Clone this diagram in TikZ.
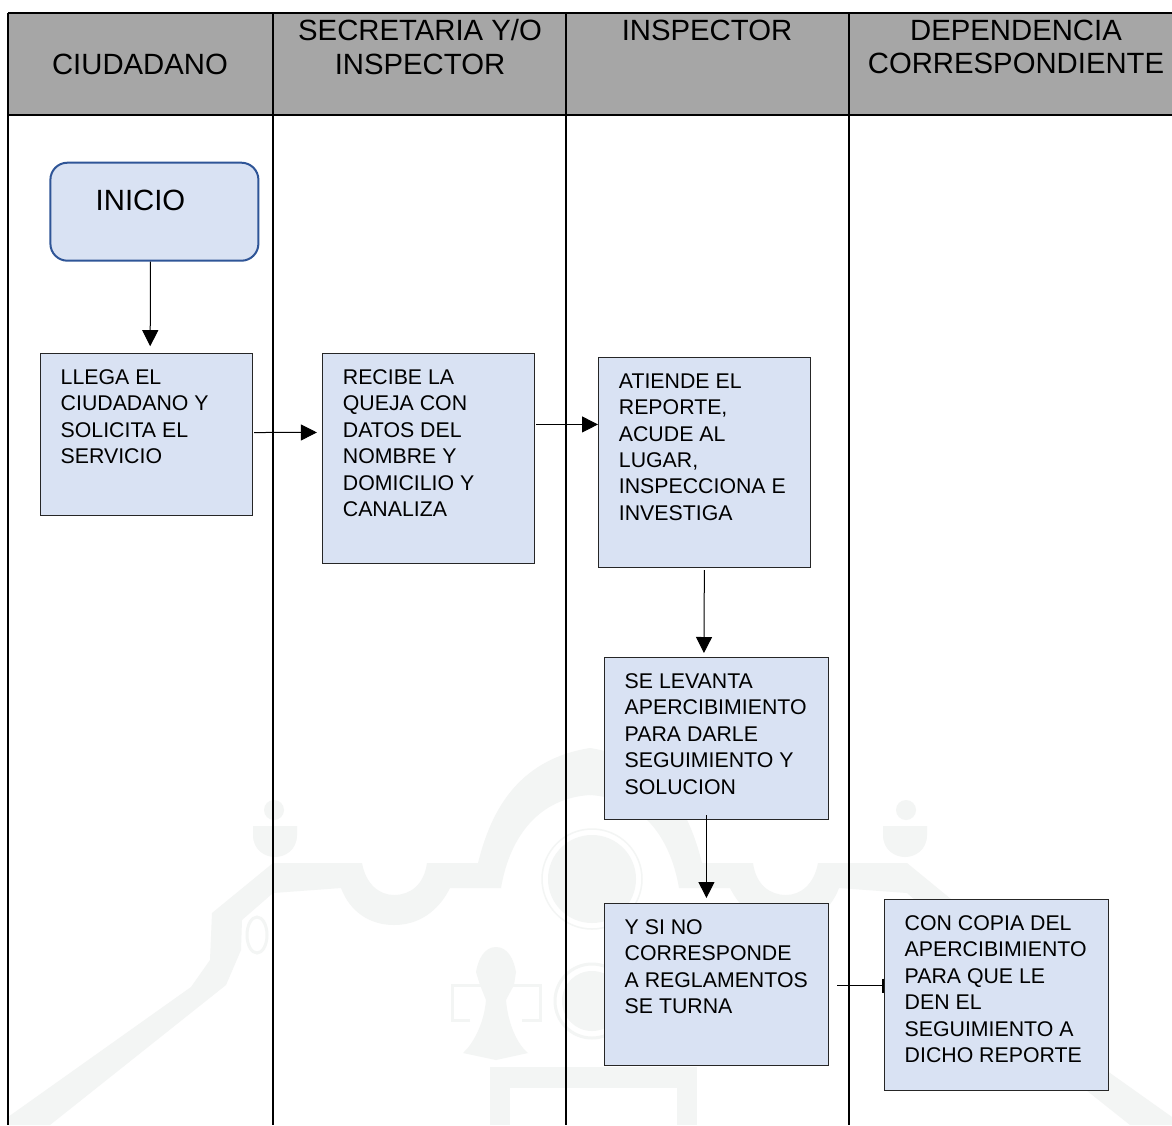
\documentclass[tikz,border=0pt]{standalone}
\usepackage{fontspec}
\setmainfont{Liberation Sans}
\usetikzlibrary{arrows.meta}
\definecolor{hdr}{HTML}{A6A6A6}
\definecolor{boxfill}{HTML}{D9E2F3}
\definecolor{startline}{HTML}{2F5597}
\definecolor{wm}{HTML}{F3F5F4}
\tikzset{
  x=1pt,y=-1pt,
  wmfill/.style={fill=wm,draw=none},
  wmline/.style={draw=wm,line width=3pt,fill=none},
  lane/.style={draw=black,line width=2.2pt},
  hdrtext/.style={font=\fontsize{29.3}{33.5}\selectfont,align=center,anchor=center,inner sep=0pt},
  proc/.style={draw=black!85,line width=1pt,fill=boxfill,inner sep=0pt,anchor=north west},
  proctext/.style={font=\fontsize{21.3}{26.4}\selectfont,align=left,anchor=north west,inner sep=0pt},
  flow/.style={draw=black,line width=1pt,-{Triangle[length=16pt,width=16pt]}},
  barflow/.style={draw=black,line width=1pt,-{Bar[width=14pt,line width=1.4pt]}},
}
\newcommand{\procbox}[6]{% name, x1,y1,x2,y2,text
  \node[proc,minimum width=#4pt-#2pt,minimum height=#5pt-#3pt] (#1) at (#2-0.8,#3-0.8) {};
  \node[proctext] (#1t) at (#2+20,#3+16) {#6};
}
\newcommand{\wmhalf}{%
  % long diagonal band, shoulder, notch and arch
  \fill[wmfill] (8,1117) -- (191,987) -- (210,960) -- (212,913) -- (273,863) -- (362,863)
    .. controls (366,885) and (380,895) .. (394,895)
    .. controls (410,895) and (424,885) .. (427,863)
    -- (478,863) .. controls (490,815) and (515,760) .. (590,748)
    -- (590,795) .. controls (540,798) and (510,835) .. (501,888)
    -- (450,888) .. controls (438,912) and (418,925) .. (394,925)
    .. controls (370,925) and (350,912) .. (341,888)
    -- (273,893) -- (242,920) -- (241,950) -- (226,985) -- (50,1125) -- (8,1125) -- cycle;
  % finial
  \fill[wmfill] (253,835) .. controls (253,850) and (265,857) .. (275,857)
    .. controls (285,857) and (297,850) .. (297,835) -- (297,826) -- (253,826) -- cycle;
  \fill[wmfill] (274,810) circle (10);
  \draw[wmline] (257,935) ellipse (10 and 18);
}
\begin{document}
\begin{tikzpicture}
\useasboundingbox (0,0) rectangle (1172,1125);
\fill[white] (0,0) rectangle (1172,1125);
% watermark
\begin{scope}
\clip (0,0) rectangle (1172,1125);
\wmhalf
\begin{scope}[xshift=1180pt,xscale=-1]
\wmhalf
\end{scope}
\fill[wmfill] (592,879) circle (44);
\draw[wmline,line width=1.5pt] (592,879) circle (50);
\draw[wmline] (592,1001) circle (37);
\fill[wmfill] (592,1001) circle (30);
% bell
\draw[wmline] (470,1020) -- (452,1020) -- (452,985) -- (540,985) -- (540,1020) -- (522,1020);
\fill[wmfill] (496,947) .. controls (484,947) and (478,960) .. (476,972) -- (480,985) -- (486,1000)
  .. controls (484,1025) and (472,1045) .. (463,1053) -- (496,1060) -- (528,1053)
  .. controls (518,1045) and (508,1025) .. (506,1000) -- (514,985) -- (516,972)
  .. controls (514,960) and (508,947) .. (496,947) -- cycle;
% lower structure
\fill[wmfill] (490,1067) rectangle (697,1088);
\fill[wmfill] (490,1067) rectangle (510,1125);
\fill[wmfill] (677,1067) rectangle (697,1125);
\end{scope}
% header
\fill[hdr] (8,13) rectangle (1172,115);
\draw[lane] (8,13) -- (1172,13);
\draw[lane] (8,115) -- (1172,115);
\draw[lane] (8,13) -- (8,1125);
\draw[lane] (273,13) -- (273,1125);
\draw[lane] (566,13) -- (566,1125);
\draw[lane] (849,13) -- (849,1125);
\node[hdrtext] (h1) at (140,64) {CIUDADANO};
\node[hdrtext] (h2) at (420,47) {SECRETARIA Y/O\\INSPECTOR};
\node[hdrtext] (h3) at (707,30) {INSPECTOR};
\node[hdrtext] (h4) at (1016,47) {DEPENDENCIA\\CORRESPONDIENTE};
% start
\node[draw=startline,line width=2pt,fill=boxfill,rounded corners=17pt,minimum width=208pt,minimum height=98pt,inner sep=0pt,anchor=north west] (inicio) at (49.4,161.7) {};
\node[font=\fontsize{29.3}{33}\selectfont,inner sep=0pt] (iniciot) at (140.5,200) {INICIO};
% processes
\procbox{a}{40.5}{353.5}{252.5}{515.5}{LLEGA EL\\CIUDADANO Y\\SOLICITA EL\\SERVICIO}
\procbox{b}{322.7}{353.5}{534.7}{564}{RECIBE LA\\QUEJA CON\\DATOS DEL\\NOMBRE Y\\DOMICILIO Y\\CANALIZA}
\procbox{c}{598.7}{357.5}{811}{568}{ATIENDE EL\\REPORTE,\\ACUDE AL\\LUGAR,\\INSPECCIONA E\\INVESTIGA}
\procbox{d}{604.5}{657.5}{829}{819.5}{SE LEVANTA\\APERCIBIMIENTO\\PARA DARLE\\SEGUIMIENTO Y\\SOLUCION}
\procbox{e}{604.5}{903.5}{829}{1065.5}{Y SI NO\\CORRESPONDE\\A REGLAMENTOS\\SE TURNA}
\procbox{f}{884.5}{899.5}{1109}{1091}{CON COPIA DEL\\APERCIBIMIENTO\\PARA QUE LE\\DEN EL\\SEGUIMIENTO A\\DICHO REPORTE}
% connectors
\draw[flow] ([xshift=-4pt]inicio.south) -- ([xshift=4pt,yshift=6.5pt]a.north);
\draw[flow] ([xshift=1.5pt,yshift=1.7pt]a.east) -- ([xshift=-5pt,yshift=26pt]b.west);
\draw[flow] ([xshift=1.3pt,yshift=34pt]b.east) -- ([xshift=.1pt,yshift=38pt]c.west);
\draw[flow] ([xshift=-.2pt,yshift=-1.8pt]c.south) -- ([xshift=-12.5pt,yshift=3.7pt]d.north);
\draw[flow] ([xshift=-10pt,yshift=4.7pt]d.south) -- ([xshift=-10pt,yshift=4.7pt]e.north);
\draw[barflow] ([xshift=8pt,yshift=-1.3pt]e.east) -- ([xshift=-.2pt,yshift=9.45pt]f.west);
\end{tikzpicture}
\end{document}
